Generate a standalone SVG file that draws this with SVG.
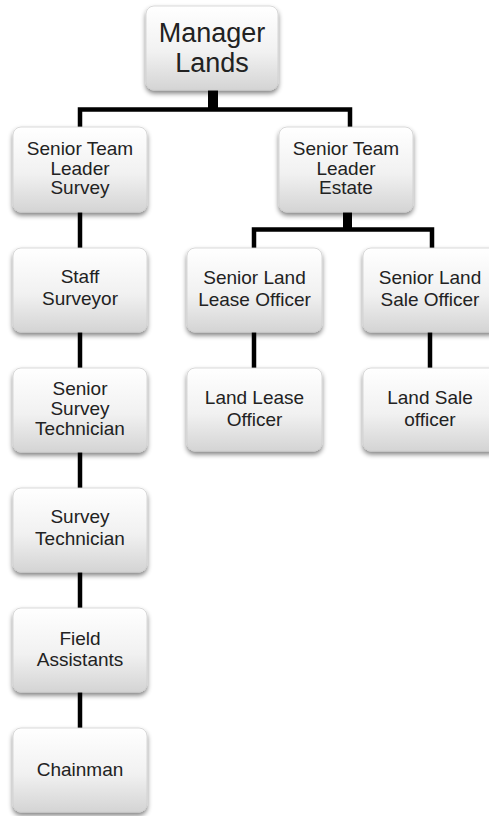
<svg xmlns="http://www.w3.org/2000/svg" width="489" height="816" viewBox="0 0 489 816">
<defs>
<linearGradient id="g" x1="0" y1="0" x2="0" y2="1">
<stop offset="0" stop-color="#ffffff"/>
<stop offset="0.55" stop-color="#f1f1f1"/>
<stop offset="1" stop-color="#d4d4d4"/>
</linearGradient>
<filter id="sh" x="-20%" y="-20%" width="140%" height="150%">
<feGaussianBlur in="SourceAlpha" stdDeviation="2.5"/>
<feOffset dx="0" dy="3" result="b"/>
<feComponentTransfer><feFuncA type="linear" slope="0.5"/></feComponentTransfer>
<feMerge><feMergeNode/><feMergeNode in="SourceGraphic"/></feMerge>
</filter>
</defs>
<style>
.box{fill:url(#g);stroke:#cfcfcf;stroke-width:0.8;filter:url(#sh)}
.t{font-family:"Liberation Sans",Arial,sans-serif;font-size:19px;fill:#222222;text-anchor:middle}
.big{font-size:27px}
.c{stroke:#000;stroke-width:4.5;fill:none}
</style>
<rect width="489" height="816" fill="#ffffff"/>
<g id="connectors">
<rect x="208" y="88" width="10" height="22" fill="#000"/>
<path class="c" d="M80,127 V109.5 H350 V127"/>
<rect x="343" y="210" width="9" height="20" fill="#000"/>
<path class="c" d="M254,248 V229.5 H432 V248"/>
<path class="c" d="M254,332 V368"/>
<path class="c" d="M430,332 V368"/>
<path class="c" d="M80,212 V248"/>
<path class="c" d="M80,332 V368"/>
<path class="c" d="M80,452 V488"/>
<path class="c" d="M80,572 V608"/>
<path class="c" d="M80,692 V728"/>
</g>
<g id="manager">
<rect class="box" x="146" y="6" width="132" height="84" rx="8"/>
<text class="t big" x="212" y="42">Manager</text>
<text class="t big" x="212" y="72">Lands</text>
</g>
<g id="stl-survey">
<rect class="box" x="13" y="127" width="134" height="85" rx="8"/>
<text class="t" x="80" y="155">Senior Team</text>
<text class="t" x="80" y="174.5">Leader</text>
<text class="t" x="80" y="194">Survey</text>
</g>
<g id="stl-estate">
<rect class="box" x="279" y="127" width="134" height="85" rx="8"/>
<text class="t" x="346" y="155">Senior Team</text>
<text class="t" x="346" y="174.5">Leader</text>
<text class="t" x="346" y="194">Estate</text>
</g>
<g id="staff-surveyor">
<rect class="box" x="13" y="248" width="134" height="84" rx="8"/>
<text class="t" x="80" y="283">Staff</text>
<text class="t" x="80" y="305">Surveyor</text>
</g>
<g id="sr-land-lease">
<rect class="box" x="187" y="248" width="135" height="84" rx="8"/>
<text class="t" x="254.5" y="284">Senior Land</text>
<text class="t" x="254.5" y="306">Lease Officer</text>
</g>
<g id="sr-land-sale">
<rect class="box" x="363" y="248" width="135" height="84" rx="8"/>
<text class="t" x="430" y="284">Senior Land</text>
<text class="t" x="430" y="306">Sale Officer</text>
</g>
<g id="sr-survey-tech">
<rect class="box" x="13" y="368" width="134" height="84" rx="8"/>
<text class="t" x="80" y="395">Senior</text>
<text class="t" x="80" y="415">Survey</text>
<text class="t" x="80" y="435">Technician</text>
</g>
<g id="land-lease">
<rect class="box" x="187" y="368" width="135" height="83" rx="8"/>
<text class="t" x="254.5" y="404">Land Lease</text>
<text class="t" x="254.5" y="426">Officer</text>
</g>
<g id="land-sale">
<rect class="box" x="363" y="368" width="135" height="83" rx="8"/>
<text class="t" x="430" y="404">Land Sale</text>
<text class="t" x="430" y="426">officer</text>
</g>
<g id="survey-tech">
<rect class="box" x="13" y="488" width="134" height="84" rx="8"/>
<text class="t" x="80" y="523">Survey</text>
<text class="t" x="80" y="545">Technician</text>
</g>
<g id="field-assistants">
<rect class="box" x="13" y="608" width="134" height="84" rx="8"/>
<text class="t" x="80" y="645">Field</text>
<text class="t" x="80" y="666">Assistants</text>
</g>
<g id="chainman">
<rect class="box" x="13" y="728" width="134" height="84" rx="8"/>
<text class="t" x="80" y="776">Chainman</text>
</g>
</svg>
